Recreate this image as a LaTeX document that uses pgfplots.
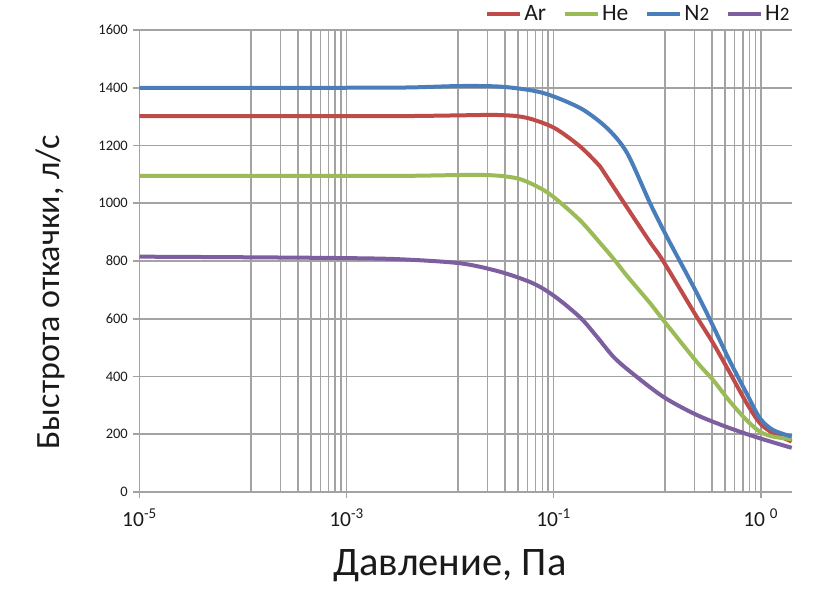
\documentclass[border=0pt]{standalone}
\usepackage{pgfplots}
\pgfplotsset{compat=1.18}
\usepackage{fontspec}
\setmainfont{Carlito}
\definecolor{gridc}{HTML}{A3A3A3}
\definecolor{cAr}{HTML}{BE4B48}
\definecolor{cHe}{HTML}{9BBB59}
\definecolor{cN}{HTML}{4A7EBB}
\definecolor{cH}{HTML}{7D5FA0}
\definecolor{txt}{HTML}{1A1A1A}
\begin{document}
\begin{tikzpicture}
\useasboundingbox (-139.5pt,-98pt) rectangle (679.5pt,492pt);
\begin{axis}[
  at={(0pt,0pt)}, anchor=south west,
  scale only axis, width=652.2pt, height=462pt,
  xmin=0, xmax=3.15, ymin=0, ymax=1600,
  axis x line=bottom, axis y line=left,
  axis line style={gridc, line width=1.8pt, -},
  xtick={0,1,2,3},
  xticklabels={10\textsuperscript{-5},10\textsuperscript{-3},10\textsuperscript{-1},10 \textsuperscript{0}},
  minor xtick={0.5396,0.6809,0.7657,0.8266,0.8741,0.9130,0.9460,0.9747,
               1.5396,1.6809,1.7657,1.8266,1.8741,1.9130,1.9460,1.9747,
               2.5396,2.6809,2.7657,2.8266,2.8741,2.9130,2.9460,2.9747},
  ytick={0,200,...,1600},
  xmajorgrids, xminorgrids, ymajorgrids,
  major grid style={gridc, line width=1.8pt},
  minor grid style={gridc, line width=1.8pt},
  every tick/.style={gridc, line width=1.8pt},
  tick align=outside, major tick length=6pt, minor tick length=0pt,
  /pgf/number format/assume math mode=true,
  /pgf/number format/1000 sep={},
  yticklabel style={font=\fontsize{14.5}{15}\selectfont, text=txt, inner sep=0pt, anchor=east, xshift=-5.5pt},
  xticklabel style={font=\fontsize{21.5}{22}\selectfont, text=txt, inner sep=0pt, anchor=north, yshift=-11pt},
  xlabel={Давление, Па},
  xlabel style={font=\fontsize{40.5}{41}\selectfont, text=txt, at={(axis description cs:0.476,-0.1797)}, anchor=base},
  ylabel={Быстрота откачки, л/с},
  ylabel style={font=\fontsize{34}{34}\selectfont, text=txt, at={(axis description cs:-0.137,0.433)}, anchor=center},
  legend style={draw=none, fill=none, legend columns=4, at={(axis description cs:1,1.0346)}, anchor=east,
    font=\fontsize{23.5}{24}\selectfont, inner sep=0pt, text=txt,
    /tikz/every even column/.append style={column sep=15pt}},
  legend image code/.code={\draw[#1, line width=4pt] (0pt,0pt) -- (33pt,0pt);},
  every axis plot/.append style={line width=4pt, smooth, tension=0.5},
  clip=false,
]
\addplot[cAr] coordinates {(0,1302)(0.5,1302)(1.0,1302)(1.3,1302)(1.6,1305)(1.71,1306)(1.82,1302)(1.90,1290)(2.008,1259)(2.129,1196)(2.225,1127)(2.257,1092)(2.355,985)(2.466,865)(2.529,800)(2.691,607)(2.77,516)(2.852,412)(2.932,308)(2.996,239)(3.059,204)(3.15,175)};
\addlegendentry{Ar}
\addplot[cHe] coordinates {(0,1095)(0.5,1095)(1.0,1095)(1.3,1095)(1.66,1098)(1.825,1086)(1.936,1052)(2.008,1017)(2.129,940)(2.225,862)(2.288,809)(2.355,748)(2.466,654)(2.529,596)(2.691,451)(2.77,388)(2.852,313)(2.932,249)(2.996,209)(3.059,192)(3.15,183)};
\addlegendentry{He}
\addplot[cN] coordinates {(0,1400)(0.5,1400)(1.0,1400)(1.3,1401)(1.55,1406)(1.74,1404)(1.9,1390)(2.0,1370)(2.14,1325)(2.26,1259)(2.355,1174)(2.466,1000)(2.547,884)(2.691,690)(2.77,575)(2.852,452)(2.932,342)(2.996,256)(3.059,215)(3.15,192)};
\addlegendentry{N{\fontsize{19}{19}\selectfont 2}}
\addplot[cH] coordinates {(0,815)(0.5,813)(1.0,810)(1.26,806)(1.55,792)(1.74,763)(1.90,723)(2.008,676)(2.129,604)(2.209,538)(2.288,469)(2.37,417)(2.529,330)(2.691,267)(2.852,221)(2.996,186)(3.15,153)};
\addlegendentry{H{\fontsize{19}{19}\selectfont 2}}
\end{axis}
\end{tikzpicture}
\end{document}
